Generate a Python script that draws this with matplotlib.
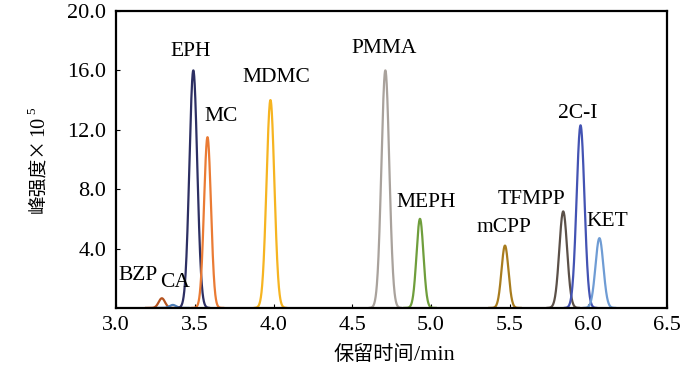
import numpy as np
import matplotlib.pyplot as plt

plt.rcParams['font.family'] = ['Liberation Serif', 'Noto Sans CJK SC']

# peak data
names = ["BZP", "CA", "EPH", "MC", "MDMC", "PMMA", "MEPH", "mCPP", "TFMPP", "2C-I", "KET"]
centers = [3.29, 3.36, 3.49, 3.58, 3.98, 4.71, 4.93, 5.47, 5.84, 5.95, 6.07]
heights = [0.65, 0.2, 16.0, 11.5, 14.0, 16.0, 6.0, 4.2, 6.5, 12.3, 4.7]
sigmas = [0.02, 0.02, 0.025, 0.022, 0.025, 0.025, 0.022, 0.022, 0.025, 0.025, 0.025]
colors = ["#b5531f", "#4f7fb8", "#2d2f63", "#ea7b34", "#f6b421", "#a9a29c",
          "#6f9e3c", "#a87c1e", "#5b5048", "#4353b3", "#6f9cd4"]
label_x = [3.14, 3.375, 3.47, 3.667, 4.02, 4.70, 4.97, 5.465, 5.64, 5.935, 6.12]
label_y = [2.2, 1.7, 17.3, 12.9, 15.5, 17.5, 7.1, 5.45, 7.3, 13.1, 5.8]

W, H = 700, 367
fig = plt.figure(figsize=(W / 100, H / 100), dpi=100)
ax = fig.add_axes([0.166, 0.161, 0.787, 0.809])

for c, h, s, col in zip(centers, heights, sigmas, colors):
    x = np.linspace(c - 0.1, c + 0.1, 200)
    ax.plot(x, h * np.exp(-0.5 * ((x - c) / s) ** 2), color=col, lw=1.6)

for name, lx, ly in zip(names, label_x, label_y):
    ax.text(lx, ly, name, ha="center", va="center", fontsize=15.5)

ax.set_xlim(3.0, 6.5)
ax.set_ylim(0, 20)
ax.set_xticks([3.0, 3.5, 4.0, 4.5, 5.0, 5.5, 6.0, 6.5])
ax.set_xticklabels(["3.0", "3.5", "4.0", "4.5", "5.0", "5.5", "6.0", "6.5"])
ax.set_yticks([4, 8, 12, 16, 20])
ax.set_yticklabels(["4.0", "8.0", "12.0", "16.0", "20.0"])
ax.tick_params(direction="in", length=3, labelsize=16, width=0.8)
ax.tick_params(axis="x", pad=6)
ax.tick_params(axis="y", pad=7)
for sp in ax.spines.values():
    sp.set_linewidth(1.6)

# axis titles mix CJK and serif text at different sizes, so lay the pieces out by hand
r = fig.canvas.get_renderer()

# x title: centred at px 394, baseline at px 360 from top
xa = fig.text(0, 1 - 360 / H, "保留时间", fontsize=14.5, family="Noto Sans CJK SC", va="baseline")
xb = fig.text(0, 1 - 360 / H, "/min", fontsize=16, va="baseline")
wa = xa.get_window_extent(r).width
wb = xb.get_window_extent(r).width
x0 = 394 - (wa + wb) / 2
xa.set_x(x0 / W)
xb.set_x((x0 + wa) / W)

# y title: runs upward from px 213 (from top), baseline at px 43
ky = dict(rotation=90, rotation_mode="anchor", ha="left", va="baseline")
ya = fig.text(43 / W, 1 - 213 / H, "峰强度×", fontsize=13.5, family="Noto Sans CJK SC", **ky)
la = ya.get_window_extent(r).height
yb = fig.text(43 / W, 1 - (213 - la - 2) / H, "10", fontsize=14.5, **ky)
lb = yb.get_window_extent(r).height
fig.text(35 / W, 1 - (213 - la - lb - 4) / H, "5", fontsize=9.5, **ky)

fig.savefig("out.png", dpi=100)
